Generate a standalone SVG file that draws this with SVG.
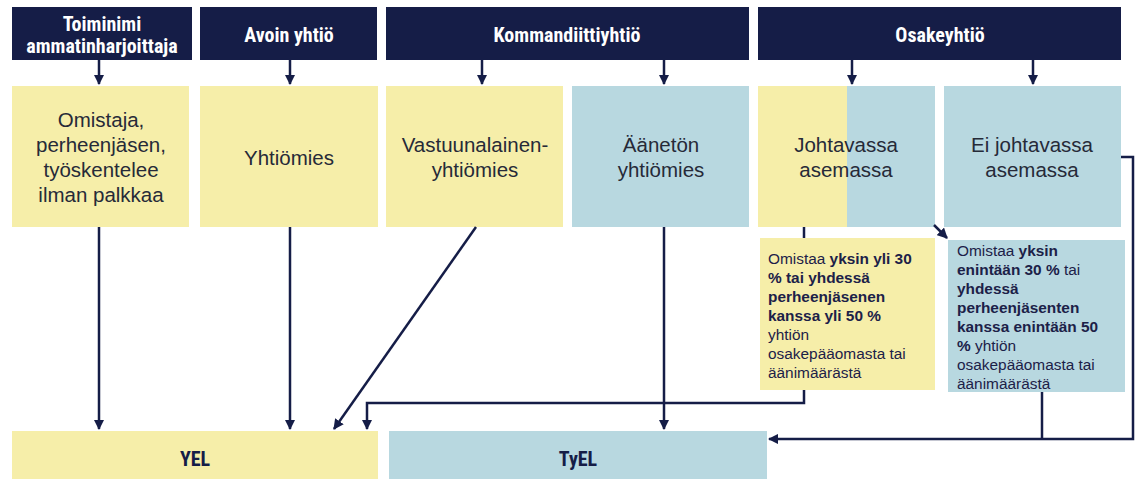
<svg xmlns="http://www.w3.org/2000/svg" width="1136" height="479" viewBox="0 0 1136 479">
<style>
.hd{fill:#151d47}
.ht{fill:#ffffff;font-family:"Liberation Sans Narrow","Roboto Condensed","DejaVu Sans Condensed","Liberation Sans",sans-serif;font-stretch:condensed;font-weight:bold;font-size:20px;text-anchor:middle}
.y{fill:#f6eea9}
.b{fill:#b8d8e0}
.ct{fill:#262a38;font-family:"Liberation Sans",Arial,sans-serif;font-size:20.5px;text-anchor:middle}
.st{fill:#1c2148;font-family:"Liberation Sans",Arial,sans-serif;font-size:15.4px}
.bt{fill:#151d47;font-family:"Liberation Sans Narrow","Roboto Condensed","DejaVu Sans Condensed","Liberation Sans",sans-serif;font-stretch:condensed;font-weight:bold;font-size:20px;text-anchor:middle}
.ln{fill:none;stroke:#151d47;stroke-width:2.5}
</style>
<defs>
<marker id="ah" viewBox="0 0 10 10" refX="9" refY="5" markerWidth="4.2" markerHeight="4.2" orient="auto" markerUnits="strokeWidth">
<path d="M0,0 L10,5 L0,10 z" fill="#151d47"/>
</marker>
</defs>
<rect width="1136" height="479" fill="#ffffff"/>

<g id="h-toiminimi"><rect class="hd" x="12" y="7" width="180" height="53"/><text class="ht" x="102" y="30.5" font-size="18.5">Toiminimi</text><text class="ht" x="102" y="53" font-size="18.5">ammatinharjoittaja</text></g>
<g id="h-avoin"><rect class="hd" x="200" y="7" width="177" height="53"/><text class="ht" x="289" y="42">Avoin yhtiö</text></g>
<g id="h-kommandiitti"><rect class="hd" x="386" y="7" width="363" height="53"/><text class="ht" x="567" y="42">Kommandiittiyhtiö</text></g>
<g id="h-osakeyhtio"><rect class="hd" x="758" y="7" width="363" height="53"/><text class="ht" x="940" y="42">Osakeyhtiö</text></g>

<g id="n-omistaja"><rect class="y" x="12" y="86" width="177" height="141"/><text class="ct" x="101" y="127">Omistaja,</text><text class="ct" x="101" y="152">perheenjäsen,</text><text class="ct" x="101" y="177">työskentelee</text><text class="ct" x="101" y="202">ilman palkkaa</text></g>
<g id="n-yhtiomies"><rect class="y" x="200" y="86" width="178" height="141"/><text class="ct" x="289" y="165">Yhtiömies</text></g>
<g id="n-vastuunalainen"><rect class="y" x="386" y="86" width="177" height="141"/><text class="ct" x="475" y="152">Vastuunalainen-</text><text class="ct" x="475" y="177">yhtiömies</text></g>
<g id="n-aaneton"><rect class="b" x="572" y="86" width="177" height="141"/><text class="ct" x="661" y="152">Äänetön</text><text class="ct" x="661" y="177">yhtiömies</text></g>
<g id="n-johtavassa"><rect class="y" x="758" y="86" width="89" height="141"/><rect class="b" x="847" y="86" width="88" height="141"/><text class="ct" x="846" y="152">Johtavassa</text><text class="ct" x="846" y="177">asemassa</text></g>
<g id="n-eijohtavassa"><rect class="b" x="944" y="86" width="177" height="141"/><text class="ct" x="1032" y="152">Ei johtavassa</text><text class="ct" x="1032" y="177">asemassa</text></g>

<g id="n-yli30"><rect class="y" x="760" y="238" width="175" height="152"/>
<text class="st" x="768" y="263.5">Omistaa <tspan font-weight="bold">yksin yli 30</tspan></text>
<text class="st" x="768" y="282.5" font-weight="bold">% tai yhdessä</text>
<text class="st" x="768" y="301.5" font-weight="bold">perheenjäsenen</text>
<text class="st" x="768" y="320.5" font-weight="bold">kanssa yli 50 %</text>
<text class="st" x="768" y="339.5">yhtiön</text>
<text class="st" x="768" y="358.5">osakepääomasta tai</text>
<text class="st" x="768" y="377.5">äänimäärästä</text>
</g>
<g id="n-enintaan30"><rect class="b" x="948" y="240" width="177" height="152"/>
<text class="st" x="957" y="255.5">Omistaa <tspan font-weight="bold">yksin</tspan></text>
<text class="st" x="957" y="274.5"><tspan font-weight="bold">enintään 30 %</tspan> tai</text>
<text class="st" x="957" y="293.5" font-weight="bold">yhdessä</text>
<text class="st" x="957" y="312.5" font-weight="bold">perheenjäsenten</text>
<text class="st" x="957" y="331.5" font-weight="bold">kanssa enintään 50</text>
<text class="st" x="957" y="350.5"><tspan font-weight="bold">%</tspan> yhtiön</text>
<text class="st" x="957" y="369.5">osakepääomasta tai</text>
<text class="st" x="957" y="388.5">äänimäärästä</text>
</g>

<g id="n-yel"><rect class="y" x="12" y="431" width="366" height="48"/><text class="bt" x="195" y="466">YEL</text></g>
<g id="n-tyel"><rect class="b" x="389" y="431" width="378" height="48"/><text class="bt" x="578" y="466">TyEL</text></g>

<g id="connectors">
<path class="ln" d="M99,60 V84" marker-end="url(#ah)"/>
<path class="ln" d="M290,60 V84" marker-end="url(#ah)"/>
<path class="ln" d="M482,60 V84" marker-end="url(#ah)"/>
<path class="ln" d="M664,60 V84" marker-end="url(#ah)"/>
<path class="ln" d="M852,60 V84" marker-end="url(#ah)"/>
<path class="ln" d="M1033,60 V84" marker-end="url(#ah)"/>
<path class="ln" d="M99,227 V429" marker-end="url(#ah)"/>
<path class="ln" d="M290,227 V429" marker-end="url(#ah)"/>
<path class="ln" d="M476,227 L334,429" marker-end="url(#ah)"/>
<path class="ln" d="M664,227 V429" marker-end="url(#ah)"/>
<path class="ln" d="M804,227 V238"/>
<path class="ln" d="M804,390 V403 H367 V429" marker-end="url(#ah)"/>
<path class="ln" d="M934,225 L947,238" marker-end="url(#ah)"/>
<path class="ln" d="M1121,157 H1133 V439 H769" marker-end="url(#ah)"/>
<path class="ln" d="M1042,392 V439"/>
</g>
</svg>
